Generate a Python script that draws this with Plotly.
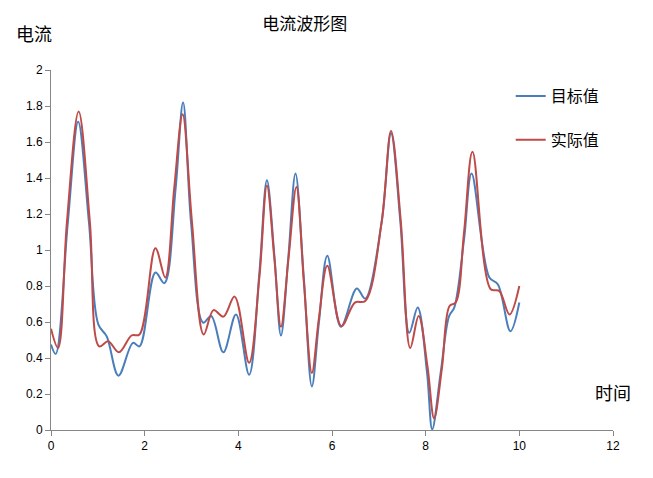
import plotly.graph_objects as go

# 目标值 (blue)
t_target = [0.0, 0.10, 0.36, 0.58, 0.81, 1.01, 1.19, 1.44, 1.75, 1.89,
            2.23, 2.42, 2.66, 2.82, 2.99, 3.25, 3.42, 3.68, 3.95, 4.23,
            4.45, 4.61, 4.77, 4.91, 5.07, 5.22, 5.40, 5.57, 5.72, 5.90,
            6.19, 6.53, 6.71, 7.06, 7.26, 7.46, 7.65, 7.83, 8.03, 8.14,
            8.32, 8.50, 8.61, 8.82, 8.98, 9.36, 9.54, 9.81, 10.0]
v_target = [0.475, 0.423, 1.155, 1.713, 1.155, 0.587, 0.52, 0.302, 0.484, 0.465,
            0.875, 0.816, 1.34, 1.82, 1.155, 0.596, 0.633, 0.432, 0.642, 0.307,
            0.875, 1.387, 0.968, 0.525, 0.968, 1.425, 0.838, 0.242, 0.596, 0.968,
            0.574, 0.786, 0.73, 1.155, 1.648, 1.155, 0.54, 0.68, 0.317, 0.004,
            0.317, 0.633, 0.68, 1.06, 1.425, 0.847, 0.81, 0.549, 0.708]

# 实际值 (red)
t_actual = [0.0, 0.15, 0.34, 0.59, 0.83, 1.03, 1.22, 1.45, 1.72, 1.89,
            2.23, 2.44, 2.63, 2.81, 3.01, 3.26, 3.47, 3.68, 3.92, 4.23,
            4.45, 4.61, 4.77, 4.91, 5.07, 5.24, 5.40, 5.57, 5.72, 5.90,
            6.20, 6.49, 6.71, 7.06, 7.26, 7.47, 7.67, 7.85, 8.04, 8.18,
            8.35, 8.51, 8.64, 8.82, 9.0, 9.39, 9.57, 9.79, 10.0]
v_actual = [0.563, 0.456, 1.155, 1.77, 1.155, 0.465, 0.493, 0.432, 0.525, 0.531,
            1.01, 0.847, 1.34, 1.754, 1.155, 0.531, 0.666, 0.63, 0.741, 0.373,
            0.85, 1.359, 0.95, 0.574, 0.95, 1.35, 0.82, 0.317, 0.62, 0.912,
            0.577, 0.708, 0.717, 1.155, 1.661, 1.155, 0.456, 0.633, 0.35, 0.065,
            0.35, 0.689, 0.708, 1.1, 1.546, 0.782, 0.773, 0.642, 0.80]

x_ticks = [0, 2, 4, 6, 8, 10, 12]
y_ticks = [0, 0.2, 0.4, 0.6, 0.8, 1, 1.2, 1.4, 1.6, 1.8, 2]

cjk = "Noto Sans CJK SC"

fig = go.Figure()
fig.add_trace(go.Scatter(x=t_target, y=v_target, name="目标值", mode="lines",
                         line=dict(color="#4A7EBB", width=2, shape="spline", smoothing=1.0),
                         legendgroup="a"))
fig.add_trace(go.Scatter(x=t_actual, y=v_actual, name="实际值", mode="lines",
                         line=dict(color="#BE4B48", width=2, shape="spline", smoothing=1.0),
                         legendgroup="b"))

axis_style = dict(showgrid=False, zeroline=False, showline=True, linecolor="#868686",
                  linewidth=1, ticks="outside", ticklen=5, tickcolor="#868686",
                  tickfont=dict(family="Liberation Sans", size=12, color="#000"))

fig.update_xaxes(range=[0, 12], tickvals=x_ticks, ticktext=[str(v) for v in x_ticks], **axis_style)
fig.update_yaxes(range=[0, 2], tickvals=y_ticks, ticktext=[f"{v:g}" for v in y_ticks], **axis_style)

# the page body adds an 8px margin, so the figure is sized to fit inside the window
fig.update_layout(
    width=637, height=462,
    margin=dict(l=43, r=32, t=62, b=40),
    plot_bgcolor="white", paper_bgcolor="white",
    title=dict(text="电流波形图", x=0.466, xanchor="center", y=0.965, yanchor="middle",
               font=dict(family=cjk, size=17, color="#000")),
    legend=dict(x=0.818, y=0.975, xanchor="left", yanchor="top", tracegroupgap=20,
                font=dict(family=cjk, size=16, color="#000"), bgcolor="rgba(0,0,0,0)"),
    annotations=[
        dict(text="电流", xref="paper", yref="paper", x=-0.031, y=1.102, xanchor="center",
             yanchor="middle", showarrow=False, font=dict(family=cjk, size=18, color="#000")),
        dict(text="时间", xref="paper", yref="paper", x=1.0, y=0.106, xanchor="center",
             yanchor="middle", showarrow=False, font=dict(family=cjk, size=18, color="#000")),
    ],
)

fig.write_html("out.html")
